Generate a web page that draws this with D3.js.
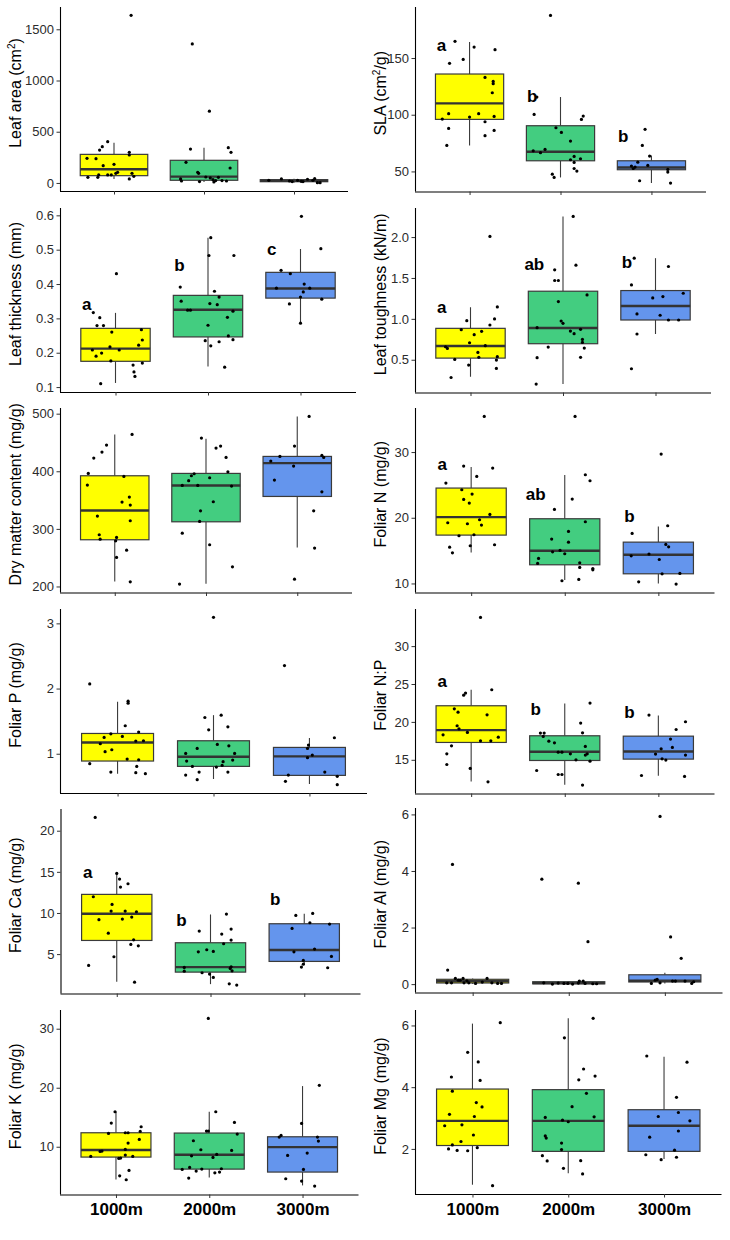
<!DOCTYPE html>
<html><head><meta charset="utf-8">
<script src="https://cdn.jsdelivr.net/npm/d3@7"></script>
<style>body{margin:0;background:#fff}svg{display:block}</style>
</head><body>
<svg id="chart" width="730" height="1240"></svg>
<script>
const groups = ["1000m","2000m","3000m"];
const fillColors = ["#FFFF00","#43CD80","#6495ED"];

// ---- Leaf area ----
const leafAreaTitle = ["Leaf area (cm","2",")"];
const leafAreaTicks = [0,500,1000,1500];
const leafAreaTickLabels = ["0","500","1000","1500"];
const leafAreaBox = [[38,71,133,279,393],[8,26,62,221,344],[3,12,22,32,42]];
const leafAreaPts = [
 [[0.19,1636],[-0.07,403],[-0.13,354],[-0.16,321],[0.17,299],[0.17,273],[-0.30,240],[-0.20,237],[-0.12,169],[0.00,182],[0.04,104],[0.02,94],[0.20,94],[0.22,65],[-0.17,78],[-0.07,78],[-0.03,78],[-0.29,55],[-0.18,55],[0.17,39]],
 [[-0.13,1357],[0.06,701],[-0.15,331],[0.27,344],[0.30,299],[-0.20,201],[0.29,146],[-0.07,104],[-0.06,94],[0.02,58],[0.07,49],[0.16,55],[-0.26,39],[-0.25,19],[0.10,32],[0.13,23],[-0.05,13],[0.20,23],[0.25,19],[0.11,10]],
 [[-0.28,26],[-0.14,39],[-0.02,13],[0.04,26],[0.08,16],[0.15,36],[0.23,42],[0.21,26],[0.26,3],[0.29,3],[0.10,13],[-0.05,19]]
];
const leafAreaLetters = null;

// ---- SLA ----
const slaTitle = ["SLA (cm","2","/g)"];
const slaTicks = [50,100,150];
const slaTickLabels = ["50","100","150"];
const slaBox = [[72.9,95.9,110,135.9,164.1],[44.7,59.4,67.4,90.3,115.6],[39.7,51.5,53.5,59.4,64.1]];
const slaPts = [
 [[-0.16,164.7],[0.05,159.7],[0.28,157.4],[-0.22,145.3],[-0.07,148.8],[0.17,132.9],[0.26,129.4],[0.26,127.4],[0.25,119.4],[-0.23,100.9],[0.10,100.9],[0.00,97.9],[0.27,98.5],[-0.30,96.2],[0.17,93.8],[-0.23,87.9],[0.27,86.2],[0.17,81.5],[-0.25,72.9]],
 [[-0.11,187.6],[-0.26,115.6],[-0.29,100.3],[0.25,98.8],[0.23,95.9],[-0.05,88.5],[0.01,84.4],[0.11,76.8],[-0.17,69.4],[-0.30,68.2],[-0.22,66.5],[0.15,63.2],[0.22,61.2],[0.11,60.3],[0.15,57.9],[0.15,52.6],[0.18,50.3],[-0.09,47.6],[-0.07,44.7]],
 [[-0.07,87.1],[-0.10,72.9],[-0.02,63.5],[-0.15,58.2],[-0.04,55.3],[-0.22,54.7],[-0.20,52.6],[0.18,51.8],[0.18,49.4],[-0.13,41.8],[0.21,39.7],[-0.18,53.8]]
];
const slaLetters = [["a",155.9],["b",111.2],["b",75.9]];

// ---- Leaf thickness ----
const thickTitle = ["Leaf thickness (mm)"];
const thickTicks = [0.1,0.2,0.3,0.4,0.5,0.6];
const thickTickLabels = ["0.1","0.2","0.3","0.4","0.5","0.6"];
const thickBox = [[0.112,0.175,0.212,0.271,0.316],[0.160,0.246,0.325,0.367,0.535],[0.286,0.359,0.387,0.434,0.502]];
const thickPts = [
 [[0.01,0.430],[-0.24,0.317],[-0.17,0.302],[-0.20,0.279],[-0.13,0.279],[-0.04,0.260],[0.28,0.267],[0.29,0.237],[0.25,0.222],[-0.06,0.217],[-0.25,0.208],[0.04,0.208],[-0.15,0.199],[-0.21,0.190],[-0.05,0.176],[0.29,0.170],[0.19,0.164],[0.20,0.144],[0.21,0.131],[-0.16,0.110]],
 [[0.03,0.535],[0.01,0.483],[0.28,0.483],[-0.30,0.391],[0.07,0.379],[0.12,0.362],[-0.29,0.350],[0.02,0.343],[0.10,0.340],[-0.22,0.324],[-0.19,0.324],[0.27,0.321],[0.21,0.303],[0.00,0.280],[0.22,0.249],[0.27,0.238],[-0.03,0.235],[0.12,0.232],[0.03,0.220],[0.18,0.158]],
 [[0.01,0.597],[0.22,0.503],[-0.21,0.440],[-0.11,0.430],[0.04,0.400],[-0.26,0.388],[0.10,0.388],[0.03,0.377],[0.00,0.362],[0.23,0.356],[-0.12,0.342],[0.00,0.286]]
];
const thickLetters = [["a",0.325],["b",0.437],["c",0.485]];

// ---- Leaf toughness ----
const toughTitle = ["Leaf toughness (kN/m)"];
const toughTicks = [0.5,1.0,1.5,2.0];
const toughTickLabels = ["0.5","1.0","1.5","2.0"];
const toughBox = [[0.292,0.520,0.668,0.884,1.142],[0.202,0.696,0.888,1.338,2.253],[0.815,0.986,1.158,1.346,1.742]];
const toughPts = [
 [[0.29,1.146],[-0.04,0.978],[0.26,0.999],[0.21,0.925],[-0.10,0.868],[0.12,0.847],[0.04,0.806],[-0.01,0.708],[0.16,0.672],[-0.27,0.659],[-0.25,0.639],[0.08,0.590],[0.09,0.529],[0.29,0.537],[0.28,0.496],[-0.17,0.504],[-0.02,0.435],[0.28,0.394],[-0.21,0.283],[0.21,2.008]],
 [[0.11,2.253],[0.14,1.657],[-0.09,1.599],[-0.09,1.469],[-0.05,1.469],[-0.05,1.211],[0.26,1.293],[-0.02,0.974],[0.00,0.945],[-0.28,0.892],[0.08,0.851],[0.19,0.872],[0.12,0.819],[0.21,0.749],[0.21,0.712],[-0.16,0.655],[0.23,0.643],[-0.28,0.525],[0.19,0.529],[-0.29,0.202]],
 [[-0.23,1.742],[0.14,1.640],[-0.26,1.415],[0.30,1.313],[0.08,1.272],[-0.03,1.256],[-0.20,1.060],[0.05,1.044],[0.14,0.986],[0.25,0.986],[-0.20,0.815],[-0.26,0.390]]
];
const toughLetters = [["a",1.068],["ab",1.599],["b",1.620]];

// ---- Dry matter content ----
const dmcTitle = ["Dry matter content (mg/g)"];
const dmcTicks = [200,300,400,500];
const dmcTickLabels = ["200","300","400","500"];
const dmcBox = [[208.7,281.1,332.0,392.2,464.0],[204.6,312.3,375.4,396.3,456.5],[267.7,356.3,414.2,425.8,495.3]];
const dmcPts = [
 [[0.19,464.0],[-0.09,445.5],[-0.14,433.4],[-0.23,422.9],[-0.29,396.3],[0.10,391.1],[-0.30,376.0],[0.16,355.2],[0.08,346.5],[0.17,341.3],[-0.19,322.2],[0.17,314.1],[-0.17,289.8],[-0.16,282.2],[0.02,285.1],[0.01,279.3],[0.13,263.1],[0.02,250.4],[0.17,208.1]],
 [[-0.05,457.7],[0.16,443.8],[0.11,440.3],[0.22,424.1],[0.24,399.2],[-0.13,395.7],[-0.16,392.2],[0.04,388.8],[-0.19,383.6],[-0.26,375.4],[-0.09,375.4],[0.28,374.3],[0.08,347.1],[-0.06,331.4],[-0.07,312.9],[-0.26,292.6],[0.04,272.4],[0.29,234.2],[-0.29,204.1]],
 [[0.13,495.3],[-0.03,443.8],[-0.19,425.8],[0.27,427.6],[0.29,424.1],[-0.29,417.7],[-0.04,409.0],[-0.25,384.7],[0.27,364.4],[0.18,331.4],[0.19,266.6],[-0.03,212.7]]
];
const dmcLetters = null;

// ---- Foliar N ----
const nTitle = ["Foliar N (mg/g)"];
const nTicks = [10,20,30];
const nTickLabels = ["10","20","30"];
const nBox = [[14.72,17.36,20.10,24.52,27.72],[10.51,12.84,14.97,19.85,26.50],[10.0,11.47,14.37,16.29,18.68]];
const nPts = [
 [[0.14,35.43],[-0.08,27.87],[0.23,27.56],[0.06,26.29],[-0.27,25.28],[-0.10,24.26],[0.01,23.60],[-0.08,22.79],[-0.02,22.23],[0.20,20.51],[0.09,19.70],[-0.25,19.24],[-0.04,19.09],[0.11,18.88],[-0.13,17.26],[0.03,17.41],[0.25,15.89],[-0.23,15.53],[-0.01,15.74],[-0.20,14.67]],
 [[0.11,35.43],[0.22,26.55],[0.27,25.63],[0.08,22.84],[-0.11,21.27],[0.22,19.39],[0.04,17.92],[-0.14,16.75],[0.04,16.29],[-0.13,14.82],[-0.05,15.03],[0.00,14.52],[-0.28,13.81],[-0.29,13.05],[0.16,13.15],[0.16,12.44],[0.30,12.28],[0.30,12.08],[-0.03,10.41],[0.15,10.61]],
 [[0.03,29.70],[0.10,18.78],[-0.28,17.61],[0.08,15.94],[0.11,15.58],[-0.10,14.47],[-0.29,14.21],[0.01,13.65],[0.04,11.47],[0.23,11.52],[-0.21,10.25],[0.19,9.90]]
];
const nLetters = [["a",27.21],["ab",22.74],["b",19.29]];

// ---- Foliar P ----
const pTitle = ["Foliar P (mg/g)"];
const pTicks = [1,2,3];
const pTickLabels = ["1","2","3"];
const pBox = [[0.694,0.888,1.173,1.311,1.796],[0.612,0.806,0.954,1.199,1.592],[0.536,0.668,0.959,1.097,1.240]];
const pPts = [
 [[-0.29,2.071],[0.11,1.806],[0.11,1.776],[0.08,1.429],[-0.07,1.306],[0.22,1.332],[-0.14,1.250],[0.05,1.265],[-0.18,1.153],[0.19,1.194],[0.27,1.199],[-0.06,1.061],[-0.13,1.031],[0.10,0.918],[0.22,0.908],[-0.29,0.847],[0.20,0.806],[-0.07,0.719],[0.19,0.709],[0.29,0.694]],
 [[0.00,3.092],[0.08,1.592],[-0.09,1.556],[0.15,1.413],[-0.05,1.367],[0.04,1.143],[0.16,1.122],[-0.17,1.082],[-0.29,1.005],[0.22,1.005],[-0.28,0.888],[0.20,0.903],[0.10,0.878],[-0.22,0.806],[0.03,0.796],[0.09,0.821],[-0.15,0.719],[0.15,0.719],[-0.29,0.673],[-0.17,0.602]],
 [[-0.26,2.352],[0.26,1.245],[-0.01,1.133],[-0.02,1.082],[0.03,0.980],[-0.02,0.939],[0.16,0.719],[-0.22,0.673],[0.29,0.653],[-0.25,0.577],[0.29,0.526]]
];
const pLetters = null;

// ---- Foliar N:P ----
const npTitle = ["Foliar N:P"];
const npTicks = [15,20,25,30];
const npTickLabels = ["15","20","25","30"];
const npBox = [[12.14,17.29,18.92,22.13,24.24],[11.70,14.91,16.06,18.17,22.44],[12.89,15.09,16.10,18.12,20.85]];
const npPts = [
 [[0.10,33.79],[0.22,24.24],[-0.06,23.80],[-0.08,23.53],[-0.18,21.73],[-0.14,21.29],[0.17,20.94],[-0.15,19.49],[-0.13,19.09],[-0.04,18.61],[-0.30,18.30],[0.29,17.99],[0.10,17.51],[0.21,17.51],[-0.21,16.85],[-0.26,15.79],[-0.26,14.38],[-0.01,13.86],[0.18,12.10]],
 [[0.27,22.48],[0.17,19.84],[0.19,18.56],[-0.26,18.52],[-0.22,18.52],[-0.23,18.08],[-0.17,17.46],[-0.11,17.24],[0.22,16.76],[-0.07,16.01],[-0.03,16.01],[0.06,15.79],[0.24,15.79],[0.22,15.62],[0.12,15.00],[0.27,14.82],[-0.30,13.59],[-0.07,13.06],[-0.03,13.06],[0.19,11.66]],
 [[-0.10,20.90],[0.29,20.02],[0.19,19.00],[0.13,17.73],[0.15,16.63],[0.03,16.45],[-0.03,15.75],[0.29,15.62],[0.04,15.13],[0.08,14.96],[-0.18,12.93],[0.28,12.80]]
];
const npLetters = [["a",24.59],["b",20.85],["b",20.46]];

// ---- Foliar Ca ----
const caTitle = ["Foliar Ca (mg/g)"];
const caTicks = [5,10,15,20];
const caTickLabels = ["5","10","15","20"];
const caBox = [[1.64,6.66,9.90,12.26,14.85],[1.35,2.81,3.42,6.38,9.82],[3.66,4.11,5.49,8.69,9.90]];
const caPts = [
 [[-0.23,21.62],[0.00,14.81],[0.03,14.12],[0.04,13.15],[0.12,13.55],[-0.25,11.97],[-0.05,11.04],[-0.06,10.23],[0.09,10.23],[0.21,10.15],[-0.19,9.18],[0.06,9.26],[0.16,9.50],[-0.09,7.55],[0.18,6.74],[0.15,6.18],[0.23,6.01],[-0.03,4.68],[-0.30,3.62],[0.19,1.59]],
 [[0.17,9.86],[0.22,8.04],[-0.12,7.80],[0.12,7.43],[0.22,6.70],[0.14,6.26],[-0.04,5.53],[0.03,5.32],[-0.13,5.28],[0.22,3.46],[0.21,3.26],[-0.28,3.38],[-0.28,2.93],[0.23,2.97],[-0.09,2.73],[-0.01,2.57],[0.03,2.16],[0.20,1.39],[0.28,1.23]],
 [[-0.09,9.70],[0.09,9.94],[0.06,8.81],[0.27,8.65],[-0.13,8.12],[0.11,5.61],[-0.11,5.28],[-0.01,4.23],[0.29,4.72],[-0.01,3.78],[-0.03,3.42],[0.25,3.34]]
];
const caLetters = [["a",14.20],["b",8.45],["b",10.96]];

// ---- Foliar Al ----
const alTitle = ["Foliar Al (mg/g)"];
const alTicks = [0,2,4,6];
const alTickLabels = ["0","2","4","6"];
const alBox = [[0.0,0.04,0.10,0.17,0.20],[0.0,0.01,0.035,0.085,0.11],[0.02,0.075,0.12,0.33,0.40]];
const alPts = [
 [[-0.21,4.23],[-0.26,0.495],[-0.18,0.20],[-0.10,0.20],[0.15,0.20],[-0.13,0.141],[-0.15,0.141],[-0.06,0.118],[-0.27,0.047],[-0.22,0.047],[-0.09,0.047],[-0.04,0.047],[0.03,0.024],[0.20,0.047],[0.26,0.024],[0.30,0.024],[0.10,0.071]],
 [[-0.28,3.71],[0.10,3.57],[0.20,1.50],[-0.26,0.047],[-0.17,0.0],[-0.11,0.035],[-0.05,0.024],[0.04,0.0],[0.11,0.106],[0.15,0.106],[0.17,0.024],[0.25,0.012],[0.29,0.012],[-0.01,0.024],[0.10,0.035]],
 [[-0.05,5.93],[0.06,1.67],[0.17,0.91],[-0.10,0.141],[-0.08,0.165],[-0.14,0.024],[-0.05,0.047],[0.08,0.106],[0.11,0.106],[0.21,0.106],[0.28,0.024],[0.30,0.083]]
];
const alLetters = null;

// ---- Foliar K ----
const kTitle = ["Foliar K (mg/g)"];
const kTicks = [10,20,30];
const kTickLabels = ["10","20","30"];
const kBox = [[4.46,8.25,9.44,12.37,15.93],[4.80,6.21,8.64,12.32,15.93],[3.45,5.71,9.94,11.69,20.28]];
const kPts = [
 [[-0.01,15.93],[-0.05,14.01],[0.27,13.39],[-0.08,12.26],[0.10,12.37],[0.13,12.37],[0.26,12.60],[0.25,11.24],[0.13,10.62],[0.10,9.55],[-0.17,9.21],[-0.15,9.27],[0.10,8.59],[0.18,8.36],[-0.27,8.36],[0.03,8.02],[0.05,8.08],[0.14,5.99],[0.04,5.08],[0.11,4.41]],
 [[-0.01,31.75],[0.07,15.93],[0.27,14.12],[-0.03,12.66],[-0.01,12.66],[0.30,12.15],[-0.17,11.02],[-0.09,9.49],[0.24,9.38],[0.08,8.70],[-0.19,8.47],[0.04,8.19],[-0.21,6.50],[-0.29,6.16],[-0.08,6.21],[0.13,6.27],[-0.14,5.88],[0.06,5.59],[0.11,5.71],[-0.22,4.69]],
 [[0.18,20.40],[-0.01,13.95],[-0.23,11.92],[-0.25,11.64],[0.16,11.64],[0.17,10.96],[0.05,8.93],[-0.16,8.53],[0.01,6.16],[-0.18,4.58],[-0.01,4.18],[0.13,3.33]]
];
const kLetters = null;

// ---- Foliar Mg ----
const mgTitle = ["Foliar Mg (mg/g)"];
const mgTicks = [2,4,6];
const mgTickLabels = ["2","4","6"];
const mgBox = [[0.84,2.11,2.91,3.94,6.06],[1.21,1.92,2.91,3.92,6.23],[1.67,1.92,2.75,3.27,4.99]];
const mgPts = [
 [[0.29,6.09],[-0.05,5.13],[0.06,4.82],[0.08,4.22],[-0.22,4.33],[-0.21,3.87],[0.04,3.50],[0.10,3.36],[-0.24,3.12],[0.02,3.05],[-0.29,2.75],[-0.11,2.78],[0.01,2.45],[-0.12,2.24],[-0.21,2.13],[0.05,2.04],[-0.25,2.00],[-0.16,1.95],[-0.05,1.94],[0.21,0.81]],
 [[0.26,6.23],[-0.04,5.60],[0.16,4.59],[0.28,4.36],[0.11,4.24],[0.19,3.80],[0.04,3.37],[-0.24,3.02],[0.27,3.04],[-0.06,2.93],[0.00,2.88],[-0.24,2.42],[-0.23,2.35],[-0.07,2.19],[-0.07,1.98],[-0.27,1.78],[-0.22,1.61],[0.13,1.62],[-0.05,1.37],[0.15,1.19]],
 [[-0.18,5.01],[0.24,4.81],[0.13,3.67],[-0.06,3.05],[0.15,3.18],[0.27,2.91],[0.15,2.58],[-0.15,2.38],[0.11,1.96],[-0.19,1.81],[0.13,1.73],[-0.03,1.65]]
];
const mgLetters = null;

// ---------- assemble ----------
const panels = [
 {title:leafAreaTitle, ticks:leafAreaTicks, labels:leafAreaTickLabels, box:leafAreaBox, pts:leafAreaPts, letters:leafAreaLetters},
 {title:slaTitle, ticks:slaTicks, labels:slaTickLabels, box:slaBox, pts:slaPts, letters:slaLetters},
 {title:thickTitle, ticks:thickTicks, labels:thickTickLabels, box:thickBox, pts:thickPts, letters:thickLetters},
 {title:toughTitle, ticks:toughTicks, labels:toughTickLabels, box:toughBox, pts:toughPts, letters:toughLetters},
 {title:dmcTitle, ticks:dmcTicks, labels:dmcTickLabels, box:dmcBox, pts:dmcPts, letters:dmcLetters},
 {title:nTitle, ticks:nTicks, labels:nTickLabels, box:nBox, pts:nPts, letters:nLetters},
 {title:pTitle, ticks:pTicks, labels:pTickLabels, box:pBox, pts:pPts, letters:pLetters},
 {title:npTitle, ticks:npTicks, labels:npTickLabels, box:npBox, pts:npPts, letters:npLetters},
 {title:caTitle, ticks:caTicks, labels:caTickLabels, box:caBox, pts:caPts, letters:caLetters},
 {title:alTitle, ticks:alTicks, labels:alTickLabels, box:alBox, pts:alPts, letters:alLetters},
 {title:kTitle, ticks:kTicks, labels:kTickLabels, box:kBox, pts:kPts, letters:kLetters},
 {title:mgTitle, ticks:mgTicks, labels:mgTickLabels, box:mgBox, pts:mgPts, letters:mgLetters}
];

// panel frames (layout)
const frames = [
 {l:60,t:7,r:348,b:191},   {l:415,t:7,r:706,b:191.5},
 {l:60,t:208,r:356,b:392}, {l:415,t:208,r:711,b:392.5},
 {l:60,t:408,r:352,b:592.5},{l:415,t:408,r:714.5,b:592.5},
 {l:60,t:609,r:367,b:793}, {l:415,t:609,r:714.5,b:793.5},
 {l:60.5,t:809,r:360.5,b:993.5},{l:415,t:808,r:722.5,b:992.5},
 {l:60,t:1010,r:358.5,b:1194.5},{l:415,t:1010,r:721.5,b:1194}
];

const FONT = "'Liberation Sans', Arial, Helvetica, sans-serif";
const svg = d3.select("#chart");
svg.append("rect").attr("width",730).attr("height",1240).attr("fill","#fff");

panels.forEach((p,i)=>{
  const f = frames[i];
  const col = i % 2;
  const bottomRow = i >= 10;
  const x = d3.scalePoint().domain(groups).range([f.l,f.r]).padding(0.6);
  const step = x.step();
  const vals = p.pts.flat().map(d=>d[1]).concat(p.box.flat());
  const [mn,mx] = d3.extent(vals);
  const pad = (mx-mn)*0.05;
  const y = d3.scaleLinear().domain([mn-pad, mx+pad]).range([f.b, f.t]);
  const g = svg.append("g");

  // boxes
  groups.forEach((grp,j)=>{
    const [wl,q1,md,q3,wh] = p.box[j];
    const cx = x(grp), hw = step*0.375;
    g.append("line").attr("x1",cx).attr("x2",cx).attr("y1",y(wh)).attr("y2",y(q3))
      .attr("stroke","#3a3a3a").attr("stroke-width",1.1);
    g.append("line").attr("x1",cx).attr("x2",cx).attr("y1",y(q1)).attr("y2",y(wl))
      .attr("stroke","#3a3a3a").attr("stroke-width",1.1);
    g.append("rect").attr("x",cx-hw).attr("width",2*hw)
      .attr("y",y(q3)).attr("height",Math.max(0.5,y(q1)-y(q3)))
      .attr("fill",fillColors[j]).attr("stroke","#3a3a3a").attr("stroke-width",1.2);
    g.append("line").attr("x1",cx-hw).attr("x2",cx+hw).attr("y1",y(md)).attr("y2",y(md))
      .attr("stroke","#333").attr("stroke-width",2.4);
  });

  // jittered points
  groups.forEach((grp,j)=>{
    g.selectAll(null).data(p.pts[j]).join("circle")
      .attr("cx",d=>x(grp)+d[0]*step).attr("cy",d=>y(d[1]))
      .attr("r",1.6).attr("fill","#000");
  });

  // letters
  if (p.letters) {
    groups.forEach((grp,j)=>{
      const [lab,val] = p.letters[j];
      g.append("text").attr("x",x(grp)-0.31*step).attr("y",y(val))
        .attr("text-anchor","middle").attr("font-family",FONT)
        .attr("font-weight","bold").attr("font-size",17).attr("fill","#000").text(lab);
    });
  }

  // y axis
  const ya = g.append("g").attr("transform",`translate(${f.l},0)`)
    .call(d3.axisLeft(y).tickValues(p.ticks).tickFormat((d,k)=>p.labels[k])
      .tickSize(3.5).tickPadding(2.5).tickSizeOuter(0));
  ya.select(".domain").attr("stroke","#000").attr("stroke-width",1.1)
    .attr("d",`M0.5,${f.t}V${f.b}`);
  ya.selectAll(".tick line").attr("stroke","#333").attr("stroke-width",1);
  ya.selectAll(".tick text").attr("font-family",FONT).attr("font-size",13).attr("fill","#2b2b2b");

  // x axis
  const xa = g.append("g").attr("transform",`translate(0,${f.b})`)
    .call(d3.axisBottom(x).tickSize(3.5).tickPadding(5).tickSizeOuter(0)
      .tickFormat(d=> bottomRow ? d : ""));
  xa.select(".domain").attr("stroke","#000").attr("stroke-width",1.1)
    .attr("d",`M${f.l},0.5H${f.r}`);
  xa.selectAll(".tick line").attr("stroke","#333").attr("stroke-width",1);
  xa.selectAll(".tick text").attr("font-family",FONT).attr("font-size",17)
    .attr("font-weight","bold").attr("fill","#000");

  // y title
  const tx = col === 0 ? 21 : 386;
  const ty = (f.t+f.b)/2 - 6;
  const t = g.append("text").attr("transform",`translate(${tx},${ty}) rotate(-90)`)
    .attr("text-anchor","middle").attr("font-family",FONT).attr("font-size",16).attr("fill","#000");
  if (p.title.length === 1) {
    t.text(p.title[0]);
  } else {
    t.append("tspan").text(p.title[0]);
    t.append("tspan").attr("font-size",10).attr("dy",-6).text(p.title[1]);
    t.append("tspan").attr("dy",6).text(p.title[2]);
  }
});
</script>
</body></html>
